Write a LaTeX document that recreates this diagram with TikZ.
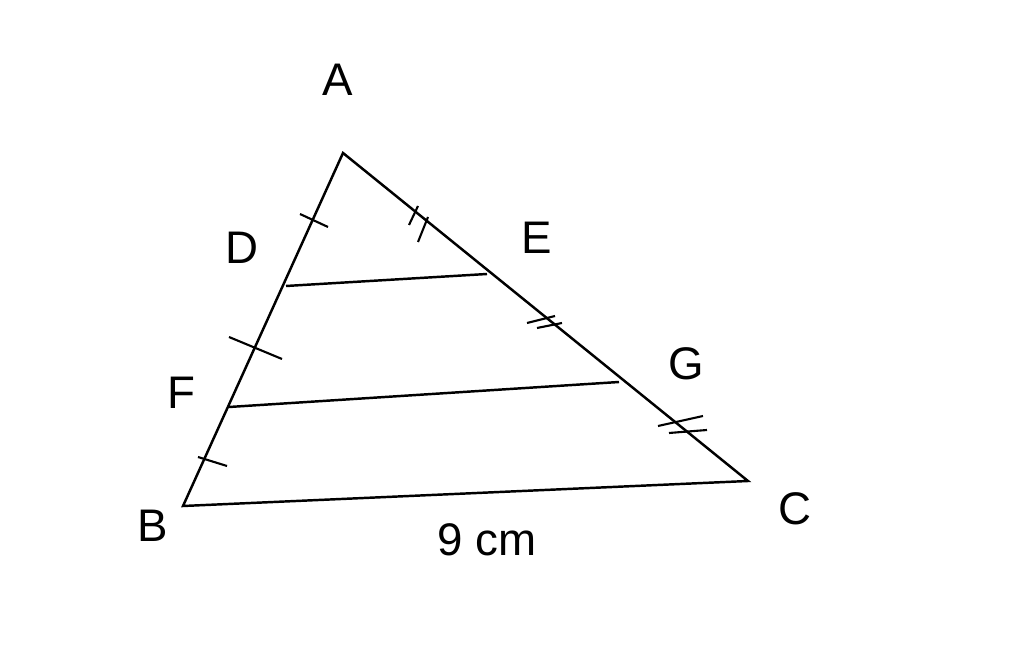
\documentclass[tikz,border=0pt]{standalone}
\usepackage{fontspec}
\setmainfont{Liberation Sans}
\begin{document}
\begin{tikzpicture}
    [x=0.02cm, y=-0.02cm, line width=1.4pt,
      label/.style={font=\fontsize{26}{31}\selectfont, inner sep=0pt},
      tick/.style={line width=1.2pt}]
    \useasboundingbox (0,0) rectangle (1024,671);

    % vertices and points on the sides
    \coordinate (A) at (343,153);
    \coordinate (B) at (183,506);
    \coordinate (C) at (748,481);
    \coordinate (D) at (286,286);
    \coordinate (E) at (487,274);
    \coordinate (F) at (229,407);
    \coordinate (G) at (619,382);

    \draw (B) -- (A) -- (C) -- cycle;
    \draw (D) -- (E);
    \draw (F) -- (G);

    % single ticks on AB
    \draw[tick] (300,214) -- (328,227);
    \draw[tick] (229,337) -- (282,359);
    \draw[tick] (198,457) -- (227,466);

    % double ticks on AC
    \draw[tick] (418,206) -- (409,225);
    \draw[tick] (428,217) -- (418,242);
    \draw[tick] (527,323) -- (555,316);
    \draw[tick] (537,328) -- (562,323);
    \draw[tick] (658,426) -- (703,416);
    \draw[tick] (669,433) -- (707,430);

    \node[label] (lA) at (338,80) {A};
    \node[label] (lB) at (153,526) {B};
    \node[label] (lC) at (795,509) {C};
    \node[label] (lD) at (242,248) {D};
    \node[label] (lE) at (537,238) {E};
    \node[label] (lF) at (181,393) {F};
    \node[label] (lG) at (686,364) {G};
    \node[label] (len) at (487,540) {9 cm};
  \end{tikzpicture}
\end{document}
